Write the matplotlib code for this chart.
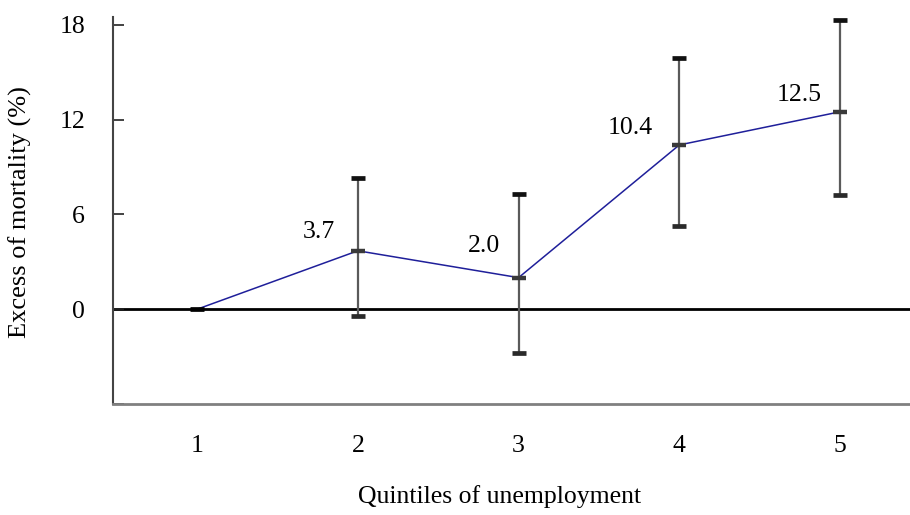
import matplotlib
matplotlib.use("Agg")
import matplotlib.pyplot as plt

# excess mortality by unemployment quintile, with confidence limits
quintiles = [1, 2, 3, 4, 5]
excess = [0.0, 3.7, 2.0, 10.4, 12.5]
ci_low = [0.0, -0.4, -2.8, 5.3, 7.2]
ci_high = [0.0, 8.3, 7.3, 15.9, 18.3]
value_labels = ["", "3.7", "2.0", "10.4", "12.5"]
y_ticks = [-6, 0, 6, 12, 18]
y_tick_labels = ["", "0", "6", "12", "18"]

# label offsets in pixels (right edge / vertical centre relative to the point)
label_offsets = [(0, 0), (-23, 19), (-18, 32), (-27, 17), (-18, 17)]

plt.rcParams["font.family"] = ["Liberation Serif", "DejaVu Serif"]

fig = plt.figure(figsize=(9.1, 5.15), dpi=100)
ax = fig.add_axes([113 / 910, 1 - 404 / 515, 1 - 113 / 910, (404 - 17) / 515])

ax.axhline(0, color="black", lw=2, zorder=1)

ax.plot(quintiles, excess, color="#1f1f9a", lw=1.1, zorder=2)

# confidence intervals (reference quintile has none)
yerr = [[e - lo for e, lo in zip(excess[1:], ci_low[1:])],
        [hi - e for e, hi in zip(excess[1:], ci_high[1:])]]
ax.errorbar(quintiles[1:], excess[1:], yerr=yerr, fmt="none",
            ecolor="#5a5a5a", elinewidth=1.6, capsize=0, zorder=3)
ax.plot(quintiles[1:], ci_low[1:], ls="none", marker="_", ms=9.5, mew=3.4,
        color="#2a2a2a", zorder=4)
ax.plot(quintiles[1:], ci_high[1:], ls="none", marker="_", ms=9.5, mew=3.4,
        color="#111111", zorder=4)
ax.plot(quintiles[1:], excess[1:], ls="none", marker="_", ms=9.5, mew=3.2,
        color="#3a3a3a", zorder=4)
ax.plot(quintiles[:1], excess[:1], ls="none", marker="_", ms=9.5, mew=3.4,
        color="black", zorder=4)

for q, v, txt, (dx, dy) in zip(quintiles, excess, value_labels, label_offsets):
    if not txt:
        continue
    ax.annotate(txt, (q, v), xytext=(dx, dy), textcoords="offset pixels",
                ha="right", va="center", fontsize=18.5)

ax.set_xlim(0.477, 5.435)
ax.set_ylim(-6, 18.5)
ax.set_xticks(quintiles)
ax.set_xticklabels([str(q) for q in quintiles], fontsize=18.5)
ax.set_yticks(y_ticks)
ax.set_yticklabels(y_tick_labels, fontsize=18.5)
ax.tick_params(axis="x", length=0, pad=22)
ax.tick_params(axis="y", direction="in", length=8, width=1.2,
               color="#222222", pad=20)

for side in ("top", "right"):
    ax.spines[side].set_visible(False)
ax.spines["left"].set_color("#444444")
ax.spines["left"].set_linewidth(1.5)
ax.spines["bottom"].set_color("#808080")
ax.spines["bottom"].set_linewidth(2)

fig.text(500 / 910, 1 - 497 / 515, "Quintiles of unemployment",
         ha="center", va="center", fontsize=18.5)
fig.text(20 / 910, 1 - 212 / 515, "Excess of mortality (%)",
         ha="center", va="center", rotation=90, fontsize=19)

fig.savefig("out.png", dpi=100)
